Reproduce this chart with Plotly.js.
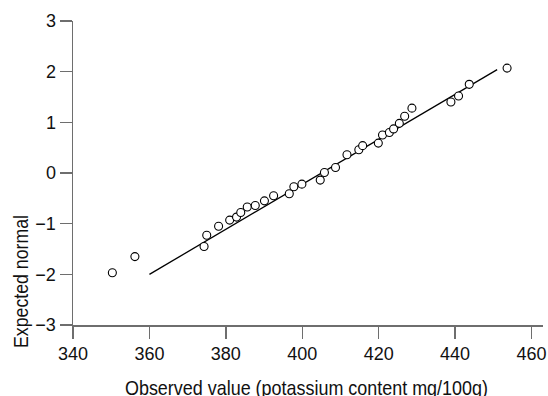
<!DOCTYPE html>
<html>
<head>
<meta charset="utf-8">
<script src="https://cdn.plot.ly/plotly-3.0.1.min.js"></script>
<style>html,body{margin:0;padding:0;background:#fff;}#chart{width:548px;height:396px;}</style>
</head>
<body>
<div id="chart"></div>
<script>
const observed = [350.3, 356.2, 374.3, 375.0, 378.1, 381.0, 382.8, 383.9, 385.6, 387.7, 390.1, 392.5, 396.6, 397.8, 399.9, 404.7, 405.8, 408.7, 411.7, 414.8, 415.8, 419.9, 421.0, 422.8, 423.9, 425.4, 426.8, 428.7, 438.9, 440.9, 443.7, 453.6];
const expected = [-1.97, -1.65, -1.45, -1.23, -1.05, -0.93, -0.87, -0.78, -0.67, -0.64, -0.55, -0.45, -0.41, -0.27, -0.22, -0.14, 0.01, 0.11, 0.36, 0.46, 0.54, 0.59, 0.75, 0.80, 0.87, 0.98, 1.12, 1.28, 1.40, 1.52, 1.75, 2.07];
const fitX = [360, 451];
const fitY = [-2.0, 2.04];
const xTicks = [340, 360, 380, 400, 420, 440, 460];
const yTicks = [-3, -2, -1, 0, 1, 2, 3];
const xTitle = 'Observed value (potassium content mg/100g)';
const yTitle = 'Expected normal';

const titleFont = {family: 'Liberation Sans, Arial, sans-serif', size: 21, color: '#111'};
const tickFont = {family: 'Liberation Sans, Arial, sans-serif', size: 18, color: '#111'};

const traces = [
  {x: fitX, y: fitY, type: 'scatter', mode: 'lines', line: {color: '#000', width: 1.3}, hoverinfo: 'skip'},
  {x: observed, y: expected, type: 'scatter', mode: 'markers',
   marker: {symbol: 'circle', size: 8, color: '#fff', line: {color: '#000', width: 1.1}}}
];
const axisCommon = {showgrid: false, zeroline: false, showline: true, linecolor: '#6e6e6e', linewidth: 1.5,
  ticks: 'outside', ticklen: 12, tickwidth: 1.5, tickcolor: '#6e6e6e', tickfont: tickFont};
const layout = {
  width: 548, height: 396,
  margin: {l: 73, r: 5, t: 21, b: 71},
  paper_bgcolor: '#fff', plot_bgcolor: '#fff',
  showlegend: false,
  xaxis: Object.assign({}, axisCommon, {range: [340, 463], tickvals: xTicks, ticktext: xTicks.map(String)}),
  yaxis: Object.assign({}, axisCommon, {range: [-3, 3], tickvals: yTicks}),
  annotations: [
    {text: xTitle, xref: 'paper', yref: 'paper', x: 0.497, y: -0.207, xanchor: 'center', yanchor: 'middle', showarrow: false, font: titleFont},
    {text: yTitle, xref: 'paper', yref: 'paper', x: -0.1123, y: 0.1446, xanchor: 'center', yanchor: 'middle', textangle: -90, showarrow: false, font: titleFont}
  ]
};
// condensed look of the original titles: squeeze the real text to its measured length
const titleLengths = {};
titleLengths[xTitle] = 363;
titleLengths[yTitle] = 133;
Plotly.newPlot('chart', traces, layout, {displayModeBar: false, staticPlot: true}).then(function (gd) {
  gd.querySelectorAll('text.annotation-text').forEach(function (t) {
    const L = titleLengths[t.textContent];
    if (L) {
      t.setAttribute('textLength', L);
      t.setAttribute('lengthAdjust', 'spacingAndGlyphs');
    }
  });
});
</script>
</body>
</html>
